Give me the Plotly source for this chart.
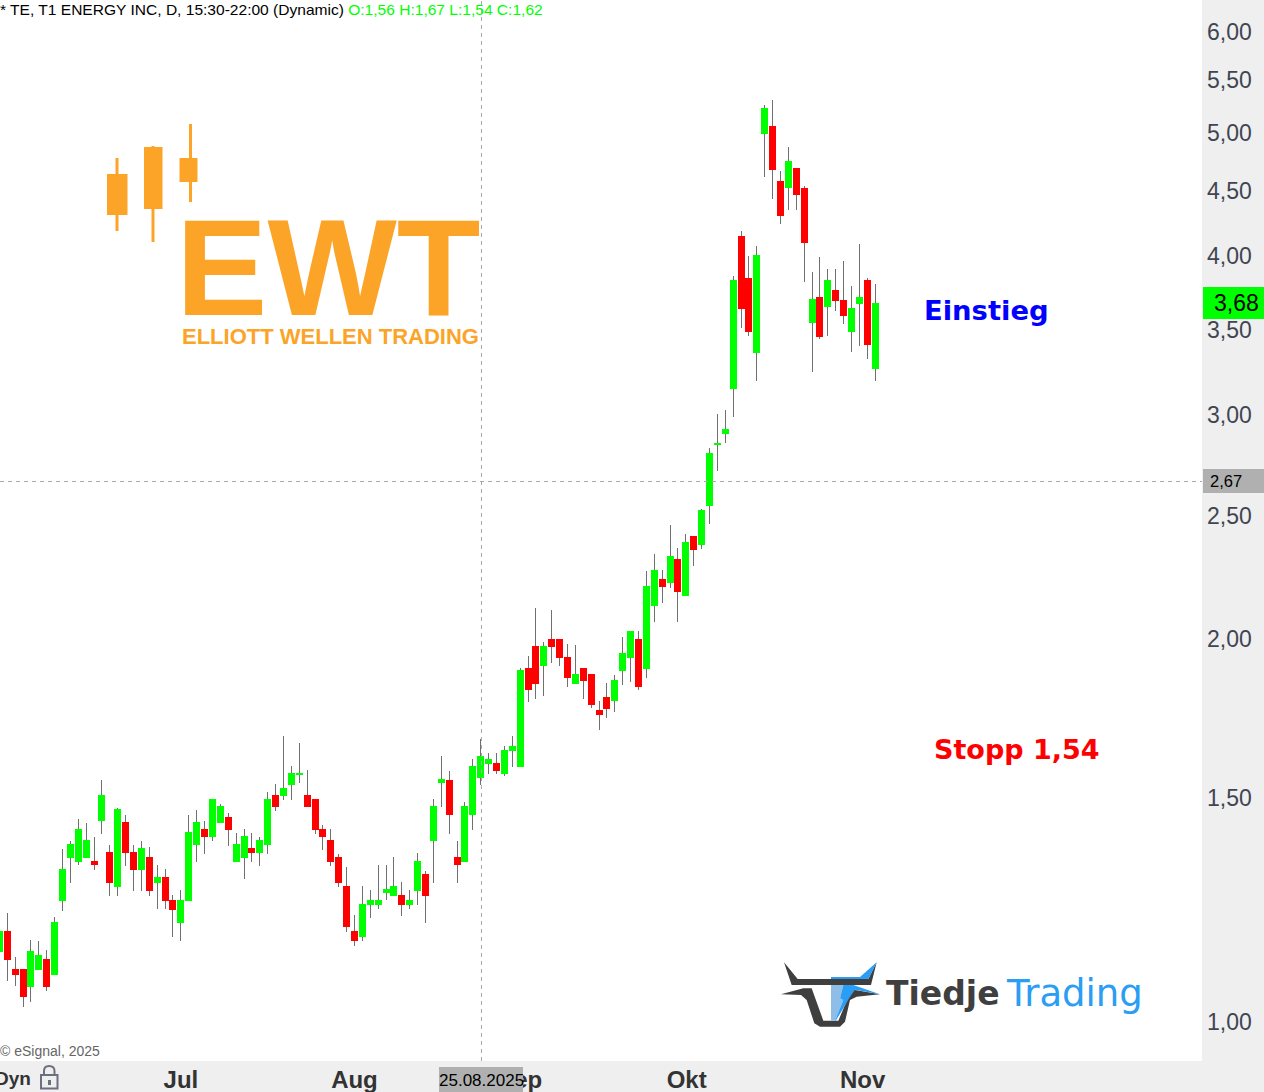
import numpy as np
import plotly.graph_objects as go

OPEN = [1.137,1.177,1.099,1.099,1.067,1.099,1.119,1.089,1.247,1.348,1.338,1.348,1.338,1.441,1.358,1.277,
1.436,1.358,1.317,1.348,1.288,1.298,1.247,1.198,1.247,1.378,1.418,1.398,1.436,1.447,1.338,1.348,
1.368,1.358,1.378,1.508,1.508,1.538,1.564,1.508,1.497,1.418,1.388,1.348,1.277,1.177,1.168,1.238,
1.238,1.265,1.258,1.258,1.238,1.268,1.307,1.388,1.544,1.547,1.348,1.338,1.457,1.558,1.598,1.598,
1.567,1.636,1.587,1.898,1.975,1.905,1.997,1.997,1.936,1.847,1.898,1.877,1.756,1.798,1.788,1.888,
1.936,1.997,1.898,2.127,2.226,2.217,2.308,2.166,2.406,2.375,2.545,2.842,2.904,3.145,4.148,3.844,
3.362,4.998,5.062,4.582,4.533,4.691,4.524,3.544,3.714,3.654,3.762,3.694,3.493,3.674,3.824,3.261]
HIGH = [1.177,1.218,1.125,1.099,1.16,1.158,1.139,1.209,1.368,1.388,1.444,1.434,1.398,1.55,1.378,1.473,
1.454,1.378,1.388,1.373,1.329,1.319,1.258,1.27,1.454,1.468,1.439,1.497,1.484,1.46,1.408,1.418,
1.408,1.398,1.516,1.538,1.678,1.589,1.657,1.578,1.497,1.428,1.418,1.355,1.324,1.214,1.279,1.27,
1.329,1.329,1.348,1.288,1.27,1.358,1.314,1.497,1.618,1.575,1.388,1.489,1.61,1.669,1.627,1.627,
1.648,1.678,1.898,1.94,2.116,1.989,2.108,1.997,1.982,1.979,1.898,1.877,1.788,1.847,1.874,2.007,
2.026,2.029,2.262,2.333,2.266,2.458,2.358,2.419,2.406,2.531,2.826,3.006,3.027,3.858,4.186,4.001,
4.074,5.258,5.306,4.666,4.873,4.691,4.541,3.886,3.993,3.907,3.907,3.964,3.789,4.088,3.844,3.803]
LOW = [1.137,1.077,1.067,1.028,1.037,1.099,1.058,1.089,1.223,1.286,1.329,1.348,1.317,1.405,1.256,1.256,
1.326,1.268,1.268,1.256,1.227,1.227,1.166,1.158,1.247,1.336,1.355,1.388,1.436,1.375,1.338,1.295,
1.336,1.326,1.355,1.465,1.495,1.495,1.541,1.478,1.405,1.365,1.326,1.277,1.177,1.147,1.158,1.207,
1.227,1.247,1.258,1.211,1.227,1.236,1.196,1.286,1.476,1.405,1.286,1.338,1.416,1.536,1.567,1.567,
1.561,1.587,1.587,1.785,1.794,1.804,1.915,1.905,1.834,1.847,1.794,1.765,1.696,1.734,1.753,1.840,
1.850,1.824,1.864,2.063,2.135,2.194,2.063,2.166,2.283,2.354,2.463,2.711,2.852,2.989,3.512,3.461,
3.191,4.615,4.435,4.239,4.348,4.348,3.817,3.243,3.443,3.461,3.621,3.537,3.362,3.399,3.320,3.191]
CLOSE = [1.177,1.119,1.089,1.048,1.137,1.129,1.067,1.198,1.317,1.378,1.418,1.388,1.329,1.508,1.288,1.468,
1.358,1.317,1.368,1.268,1.298,1.247,1.227,1.247,1.408,1.436,1.398,1.497,1.478,1.418,1.378,1.398,
1.358,1.388,1.497,1.478,1.527,1.567,1.569,1.478,1.418,1.398,1.338,1.288,1.188,1.158,1.238,1.247,
1.247,1.270,1.277,1.238,1.247,1.338,1.258,1.478,1.550,1.457,1.329,1.478,1.587,1.618,1.607,1.578,
1.636,1.648,1.888,1.827,1.847,1.975,1.975,1.936,1.867,1.877,1.857,1.778,1.746,1.765,1.857,1.947,
2.026,1.837,2.198,2.266,2.198,2.324,2.178,2.384,2.354,2.526,2.796,2.852,2.925,3.824,3.635,3.493,
4.001,5.229,4.683,4.309,4.751,4.468,4.103,3.701,3.461,3.824,3.694,3.595,3.635,3.714,3.411,3.674]
BAR_INDEX = list(range(-1, 111))
Y_TICKS = [1.0, 1.5, 2.0, 2.5, 3.0, 3.5, 4.0, 4.5, 5.0, 5.5, 6.0]
Y_LABELS = ["1,00", "1,50", "2,00", "2,50", "3,00", "3,50", "4,00", "4,50", "5,00", "5,50", "6,00"]
MONTH_POS = [22.0, 44.0, 65.0, 86.1, 108.4]
MONTH_LABELS = ["Jul", "Aug", "Sep", "Okt", "Nov"]

GREEN, RED, GREY = "#00ff00", "#ff0000", "#707070"
ORANGE, DARK, BLUE, PALE = "#fba428", "#3f3f3f", "#2a9df4", "#8ebde8"
W, H = 1202.0, 1061.0
px = lambda x: x / W
py = lambda y: 1 - y / H

fig = go.Figure()
# wicks (bodies are covered by the coloured trace that follows)
fig.add_trace(go.Candlestick(
    x=BAR_INDEX, open=OPEN, high=HIGH, low=LOW, close=CLOSE, whiskerwidth=0,
    increasing=dict(line=dict(color=GREY, width=1), fillcolor=GREY),
    decreasing=dict(line=dict(color=GREY, width=1), fillcolor=GREY),
    hoverinfo="skip"))
tops = [max(o, c) for o, c in zip(OPEN, CLOSE)]
bots = [min(o, c) for o, c in zip(OPEN, CLOSE)]
fig.add_trace(go.Candlestick(
    x=BAR_INDEX, open=OPEN, high=tops, low=bots, close=CLOSE, whiskerwidth=0,
    increasing=dict(line=dict(color=GREEN, width=1), fillcolor=GREEN),
    decreasing=dict(line=dict(color=RED, width=1), fillcolor=RED)))

shapes, ann = [], []

def rect(x0, y0, x1, y1, color):
    shapes.append(dict(type="rect", xref="paper", yref="paper", x0=px(x0), x1=px(x1),
                       y0=py(y0), y1=py(y1), fillcolor=color, line=dict(width=0), layer="above"))

def poly(points, color, ox=0, oy=0, s=1.0):
    d = "M" + " L".join(f"{px(ox + a * s):.5f},{py(oy + b * s):.5f}" for a, b in points) + " Z"
    shapes.append(dict(type="path", xref="paper", yref="paper", path=d, fillcolor=color,
                       line=dict(width=0), layer="above"))

def text(x, y, s, size, color, family="Liberation Sans", anchor="left"):
    ann.append(dict(xref="paper", yref="paper", x=px(x), y=py(y), text=s, showarrow=False,
                    xanchor=anchor, yanchor="middle", borderpad=0, borderwidth=0,
                    font=dict(family=family, size=size, color=color)))

# crosshair
shapes.append(dict(type="line", xref="paper", yref="paper", x0=0, x1=1, y0=py(481.5), y1=py(481.5),
                   line=dict(color="#aaaaaa", width=1, dash="4px,4px"), layer="above"))
shapes.append(dict(type="line", xref="paper", yref="paper", x0=px(481.5), x1=px(481.5), y0=0, y1=1,
                   line=dict(color="#aaaaaa", width=1, dash="4px,4px"), layer="above"))

# price flags and date flag
rect(1203, 287, 1264, 319, GREEN)
text(1236, 303, "3,68", 23, "#000000", anchor="center")
rect(1203, 469, 1264, 493, "#b0b0b0")
text(1210, 481, "2,67", 16.5, "#000000")
rect(439, 1067, 523, 1092, "#b0b0b0")
text(481, 1080, "25.08.2025", 17, "#000000", anchor="center")

# header
text(0, 10, '* TE, T1 ENERGY INC, D, 15:30-22:00 (Dynamic) '
     f'<span style="color:{GREEN}">O:1,56 H:1,67 L:1,54 C:1,62</span>', 15.55, "#000000")
text(0, 1051, "© eSignal, 2025", 14, "#666666")
text(31, 1078, "<b>Dyn</b>", 19, "#333333", anchor="right")

# lock icon
LOCK = "#6b7080"
shapes.append(dict(type="rect", xref="paper", yref="paper", x0=px(41), x1=px(57.5), y0=py(1075), y1=py(1088.5),
                   fillcolor="rgba(0,0,0,0)", line=dict(color=LOCK, width=2), layer="above"))
shapes.append(dict(type="path", xref="paper", yref="paper",
                   path=f"M{px(44)},{py(1075)} L{px(44)},{py(1071)} Q{px(44)},{py(1066)} {px(49)},{py(1066)} "
                        f"Q{px(54.5)},{py(1066)} {px(54.5)},{py(1071)} L{px(54.5)},{py(1075)}",
                   line=dict(color=LOCK, width=2), layer="above"))
rect(48, 1080, 51, 1085, LOCK)

# EWT logo
for (wx, wt, wb, bx0, bx1, bt, bb) in [(117, 158, 231, 107, 127.5, 174, 215),
                                       (153, 146, 242, 144, 162.5, 147, 209),
                                       (190.5, 124, 202, 179.5, 197.5, 158, 182)]:
    rect(wx - 1.5, wt, wx + 1.5, wb, ORANGE)
    rect(bx0, bt, bx1, bb, ORANGE)
text(175.5, 267, "<b>EWT</b>", 137, ORANGE)
text(182, 337, "<b>ELLIOTT WELLEN TRADING</b>", 22, ORANGE)

S = 1 / 3
B = dict(ox=775, oy=955, s=S)
poly([(27, 22), (68, 72), (168, 72), (168, 90), (50, 90)], DARK, **B)
poly([(168, 72), (280, 72), (305, 22), (288, 90), (168, 90)], DARK, **B)
poly([(168, 66), (255, 66), (305, 22), (280, 72), (168, 72)], BLUE, **B)
poly([(18, 118), (85, 100), (110, 100), (145, 197), (168, 197), (168, 215), (135, 215), (118, 205), (95, 135), (78, 120)], DARK, **B)
poly([(315, 118), (245, 106), (232, 104), (210, 150), (190, 197), (168, 197), (168, 215), (195, 215), (210, 200), (225, 135), (245, 125)], DARK, **B)
poly([(168, 90), (205, 90), (195, 130), (205, 135), (180, 197), (168, 197)], PALE, **B)
poly([(205, 90), (235, 90), (315, 118), (240, 104), (225, 125), (205, 160), (182, 197), (180, 197), (205, 135), (195, 130)], BLUE, **B)

text(886, 993, "<b>Tiedje</b>", 33, DARK, family="DejaVu Sans")
text(1006, 993, "Trading", 37, BLUE, family="DejaVu Sans")

# chart notes
text(986, 310, "<b>Einstieg</b>", 27.4, "#0000ff", family="DejaVu Sans", anchor="center")
text(1017, 749, "<b>Stopp 1,54</b>", 27, "#ff0000", family="DejaVu Sans", anchor="center")

fig.update_layout(
    width=1264, height=1092, autosize=False, showlegend=False,
    margin=dict(l=0, r=62, t=0, b=31, pad=0, autoexpand=False),
    paper_bgcolor="#efefef", plot_bgcolor="#ffffff",
    boxgap=0.24, boxgroupgap=0, hovermode=False,
    shapes=shapes, annotations=ann,
    xaxis=dict(range=[-0.925, 151.42], rangeslider=dict(visible=False), showgrid=False, zeroline=False,
               showline=False, tickmode="array", tickvals=MONTH_POS, ticktext=[f"<b>{m}</b>" for m in MONTH_LABELS],
               ticks="", ticklen=0, ticklabelstandoff=2,
               tickfont=dict(family="Liberation Sans", size=24, color="#333333")),
    yaxis=dict(type="log", side="right", range=[float(np.log10(0.9319)), float(np.log10(6.359))],
               showgrid=False, zeroline=False, showline=False, tickmode="array", tickvals=Y_TICKS, ticktext=Y_LABELS,
               ticks="", ticklen=0, ticklabelstandoff=4,
               tickfont=dict(family="Liberation Sans", size=23, color="#3f4552")),
)
POST = ("document.body.style.margin='0';document.body.style.overflow='hidden';"
        "var s=document.createElement('style');s.textContent='.boxlayer path{shape-rendering:crispEdges}';"
        "document.head.appendChild(s);")
fig.write_html("out.html", post_script=POST, config=dict(displayModeBar=False))
